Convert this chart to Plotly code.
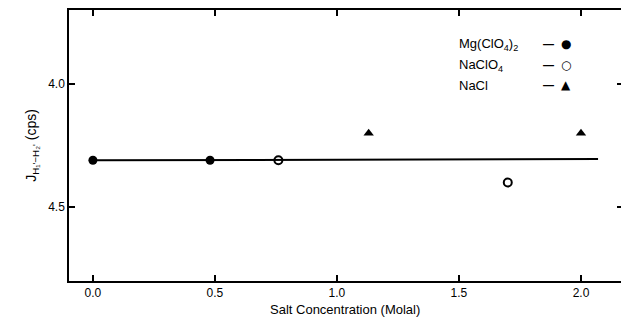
import plotly.graph_objects as go

# Data
mg_x = [0.0, 0.48]
mg_y = [4.31, 4.31]
naclo4_x = [0.76, 1.70]
naclo4_y = [4.31, 4.40]
nacl_x = [1.13, 2.00]
nacl_y = [4.20, 4.20]
fit_x = [0.0, 2.07]
fit_y = [4.31, 4.305]

x_ticks = [0.0, 0.5, 1.0, 1.5, 2.0]
x_tick_text = ["0.0", "0.5", "1.0", "1.5", "2.0"]
y_ticks = [4.0, 4.5]
y_tick_text = ["4.0", "4.5"]

legend_labels = ["Mg(ClO<sub>4</sub>)<sub>2</sub>", "NaClO<sub>4</sub>", "NaCl"]
legend_symbols = ["●", "○", "▲"]
legend_y = [3.84, 3.925, 4.005]

font = "Liberation Sans, Arial, sans-serif"

fig = go.Figure()
fig.add_trace(go.Scatter(x=fit_x, y=fit_y, mode="lines",
                         line=dict(color="black", width=2), showlegend=False))
fig.add_trace(go.Scatter(x=mg_x, y=mg_y, mode="markers",
                         marker=dict(symbol="circle", size=9, color="black"), showlegend=False))
fig.add_trace(go.Scatter(x=naclo4_x, y=naclo4_y, mode="markers",
                         marker=dict(symbol="circle-open", size=8, color="black",
                                     line=dict(width=2)), showlegend=False))
fig.add_trace(go.Scatter(x=nacl_x, y=nacl_y, mode="markers", yaxis="y2",
                         marker=dict(symbol="triangle-up", size=9, color="black"), showlegend=False))

for lab, sym, ly in zip(legend_labels, legend_symbols, legend_y):
    fig.add_annotation(x=1.49, y=ly, xref="x", yref="y", text=lab, showarrow=False,
                       xanchor="left", font=dict(size=13, color="black", family=font))
    fig.add_annotation(x=1.865, y=ly, xref="x", yref="y", text="<b>—</b>", showarrow=False,
                       font=dict(size=11, color="black", family=font))
    fig.add_annotation(x=1.94, y=ly, xref="x", yref="y", text=sym, showarrow=False,
                       font=dict(size=12, color="black", family="DejaVu Sans"))

# x-axis title as annotation to keep it inside the picture
fig.add_annotation(x=0.5, y=-0.105, xref="paper", yref="paper",
                   text="Salt Concentration (Molal)", showarrow=False,
                   yanchor="middle", font=dict(size=13, color="black", family=font))

y_range = [4.80, 3.70]

fig.update_layout(
    width=621, height=319,
    margin=dict(l=69, r=0, t=10, b=38),
    plot_bgcolor="white", paper_bgcolor="white",
    font=dict(family=font, size=12, color="black"),
    xaxis=dict(range=[-0.098, 2.164], tickvals=x_ticks, ticktext=x_tick_text,
               ticks="inside", ticklen=6, tickwidth=1.5, tickcolor="black",
               showline=True, linecolor="black", linewidth=1.5, mirror="ticks",
               showgrid=False, zeroline=False, tickfont=dict(size=12)),
    yaxis=dict(range=y_range, tickvals=y_ticks, ticktext=y_tick_text,
               ticks="inside", ticklen=6, tickwidth=1.5, tickcolor="black",
               showline=True, linecolor="black", linewidth=1.5,
               showgrid=False, zeroline=False,
               title=dict(text="J<sub>H₁'−H₂'</sub> (cps)", font=dict(size=14), standoff=8),
               tickfont=dict(size=12)),
    yaxis2=dict(range=y_range, tickvals=y_ticks, overlaying="y", side="right",
                ticks="inside", ticklen=4, tickwidth=1.5, tickcolor="black",
                showline=False, showticklabels=False, showgrid=False, zeroline=False),
)

fig.write_html("out.html", config={"displayModeBar": False},
               post_script="document.body.style.margin='0px';document.body.style.overflow='hidden';")
